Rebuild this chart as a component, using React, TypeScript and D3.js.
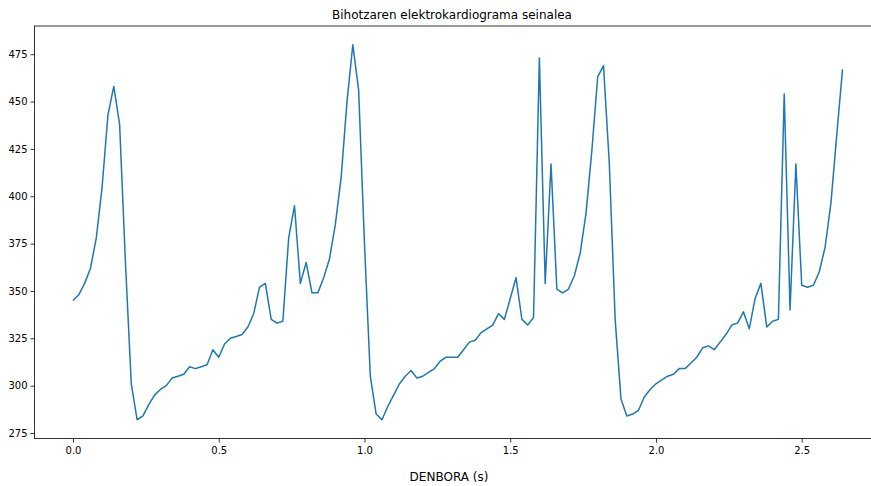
import React, { useEffect, useRef } from 'react';
import * as d3 from 'd3';

// ECG signal, one sample every 0.02 s
const sampleStep = 0.02;
const ecgValues = [
  345, 348, 354, 362, 378, 405, 443, 458, 438, 365,
  301, 282, 284, 290, 295, 298, 300, 304, 305, 306,
  310, 309, 310, 311, 319, 315, 322, 325, 326, 327,
  331, 338, 352, 354, 335, 333, 334, 378, 395, 354,
  365, 349, 349, 357, 367, 385, 410, 450, 480, 456,
  375, 305, 285, 282, 289, 295, 301, 305, 308, 304,
  305, 307, 309, 313, 315, 315, 315, 319, 323, 324,
  328, 330, 332, 338, 335, 346, 357, 335, 332, 336,
  473, 354, 417, 351, 349, 351, 358, 370, 391, 424,
  463, 469, 417, 335, 293, 284, 285, 287, 294, 298,
  301, 303, 305, 306, 309, 309, 312, 315, 320, 321,
  319, 323, 327, 332, 333, 339, 330, 346, 354, 331,
  334, 335, 454, 340, 417, 353, 352, 353, 360, 373,
  396, 432, 467,
];
const xTicks = [0, 0.5, 1.0, 1.5, 2.0, 2.5];
const yTicks = [275, 300, 325, 350, 375, 400, 425, 450, 475];

const title = 'Bihotzaren elektrokardiograma seinalea';
const xLabel = 'DENBORA (s)';

const App = () => {
  const ref = useRef<SVGSVGElement | null>(null);
  const width = 871;
  const height = 486;

  useEffect(() => {
    if (!ref.current) return;
    const svg = d3.select(ref.current);
    svg.selectAll('*').remove();

    // the original figure is cropped on the right, so the axes run past the edge
    const margin = { top: 26, right: -10, bottom: 47.5, left: 34.5 };
    const w = width - margin.left - margin.right;
    const h = height - margin.top - margin.bottom;

    const data = ecgValues.map((v, i) => ({ t: i * sampleStep, v }));

    // matplotlib style 5% padding around the data
    const tMax = d3.max(data, d => d.t) as number;
    const vMin = d3.min(ecgValues) as number;
    const vMax = d3.max(ecgValues) as number;
    const tPad = tMax * 0.05;
    const vPad = (vMax - vMin) * 0.05;

    const x = d3.scaleLinear().domain([-tPad, tMax + tPad]).range([0, w]);
    const y = d3.scaleLinear().domain([vMin - vPad, vMax + vPad]).range([h, 0]);

    const g = svg.append('g').attr('transform', `translate(${margin.left},${margin.top})`);

    const xAxis = g.append('g')
      .attr('transform', `translate(0,${h})`)
      .call(d3.axisBottom(x).tickValues(xTicks).tickFormat(d3.format('.1f')).tickSize(4).tickPadding(4));
    const yAxis = g.append('g')
      .call(d3.axisLeft(y).tickValues(yTicks).tickFormat(d3.format('d')).tickSize(4).tickPadding(3));

    [xAxis, yAxis].forEach(a => {
      a.select('.domain').remove();
      a.selectAll('text')
        .attr('font-family', 'DejaVu Sans, sans-serif')
        .attr('font-size', 10)
        .attr('fill', '#000');
      a.selectAll('line').attr('stroke', '#000').attr('stroke-width', 0.8);
    });

    // frame
    g.append('rect')
      .attr('width', w)
      .attr('height', h)
      .attr('fill', 'none')
      .attr('stroke', '#000')
      .attr('stroke-width', 0.8);

    const line = d3.line<{ t: number; v: number }>()
      .x(d => x(d.t))
      .y(d => y(d.v));

    g.append('path')
      .datum(data)
      .attr('fill', 'none')
      .attr('stroke', '#1f77b4')
      .attr('stroke-width', 1.5)
      .attr('stroke-linejoin', 'round')
      .attr('d', line);

    svg.append('text')
      .attr('x', 452)
      .attr('y', margin.top - 7)
      .attr('text-anchor', 'middle')
      .attr('font-family', 'DejaVu Sans, sans-serif')
      .attr('font-size', 12)
      .text(title);

    svg.append('text')
      .attr('x', 449)
      .attr('y', 481)
      .attr('text-anchor', 'middle')
      .attr('font-family', 'DejaVu Sans, sans-serif')
      .attr('font-size', 12)
      .text(xLabel);
  }, []);

  return (
    <svg
      ref={ref}
      width={width}
      height={height}
      style={{ position: 'absolute', left: 0, top: 0, background: '#fff' }}
    />
  );
};

export default App;
